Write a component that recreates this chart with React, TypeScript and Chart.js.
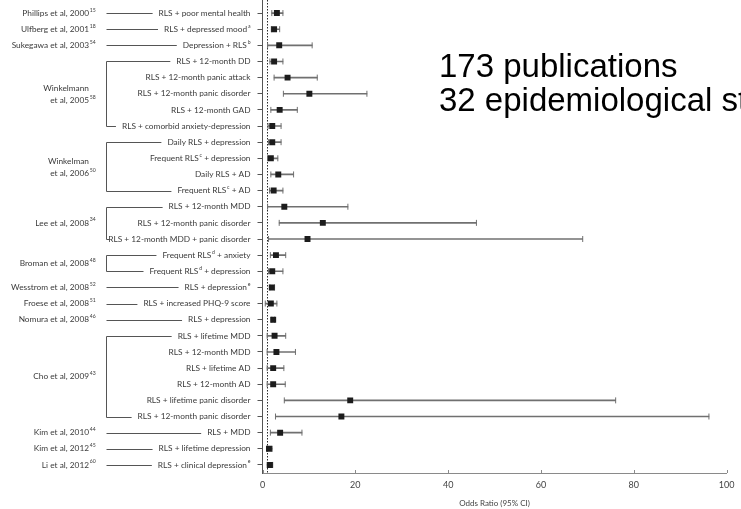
import React, { useEffect, useRef } from 'react';
import { Chart, registerables } from 'chart.js';

Chart.register(...registerables);

// ---------------- data ----------------
const outcomes = [
  'RLS + poor mental health',
  'RLS + depressed mood^{a}',
  'Depression + RLS^{b}',
  'RLS + 12-month DD',
  'RLS + 12-month panic attack',
  'RLS + 12-month panic disorder',
  'RLS + 12-month GAD',
  'RLS + comorbid anxiety-depression',
  'Daily RLS + depression',
  'Frequent RLS^{c} + depression',
  'Daily RLS + AD',
  'Frequent RLS^{c} + AD',
  'RLS + 12-month MDD',
  'RLS + 12-month panic disorder',
  'RLS + 12-month MDD + panic disorder',
  'Frequent RLS^{d} + anxiety',
  'Frequent RLS^{d} + depression',
  'RLS + depression^{e}',
  'RLS + increased PHQ-9 score',
  'RLS + depression',
  'RLS + lifetime MDD',
  'RLS + 12-month MDD',
  'RLS + lifetime AD',
  'RLS + 12-month AD',
  'RLS + lifetime panic disorder',
  'RLS + 12-month panic disorder',
  'RLS + MDD',
  'RLS + lifetime depression',
  'RLS + clinical depression^{e}',
];

const oddsRatio = [3.1, 2.5, 3.6, 2.5, 5.4, 10.1, 3.7, 2.1, 2.1, 1.8, 3.4, 2.4, 4.7, 13.0, 9.7, 2.9, 2.1, 2.0, 1.8, 2.3, 2.6, 3.0, 2.3, 2.3, 18.9, 17.0, 3.8, 1.4, 1.6];
const ciLow = [2.0, 1.9, 1.1, 1.6, 2.5, 4.5, 1.8, 1.2, 1.3, 1.1, 1.8, 1.5, 1.1, 3.6, 1.3, 1.7, 1.3, 1.6, 0.6, 2.0, 1.0, 1.0, 1.0, 1.0, 4.7, 2.8, 1.7, 1.0, 1.0];
const ciHigh = [4.4, 3.7, 10.7, 4.4, 11.8, 22.5, 7.5, 4.0, 4.0, 3.3, 6.7, 4.4, 18.4, 46.1, 69.0, 5.0, 4.4, 2.6, 3.1, 2.6, 5.0, 7.1, 4.6, 4.9, 76.1, 96.2, 8.5, 2.1, 2.2];

const studies = [
  'Phillips et al, 2000^{15}',
  'Ulfberg et al, 2001^{18}',
  'Sukegawa et al, 2003^{54}',
  'Winkelmann\net al, 2005^{58}',
  'Winkelman\net al, 2006^{50}',
  'Lee et al, 2008^{34}',
  'Broman et al, 2008^{48}',
  'Wesstrom et al, 2008^{52}',
  'Froese et al, 2008^{51}',
  'Nomura et al, 2008^{46}',
  'Cho et al, 2009^{43}',
  'Kim et al, 2010^{44}',
  'Kim et al, 2012^{45}',
  'Li et al, 2012^{60}',
];
const studyFirstRow = [0, 1, 2, 3, 8, 12, 15, 17, 18, 19, 20, 26, 27, 28];
const studyLastRow = [0, 1, 2, 7, 11, 14, 16, 17, 18, 19, 25, 26, 27, 28];

const xTickStep = 20;
const xMin = 0;
const xMax = 100;
const nullValue = 1;
const axisTitle = 'Odds Ratio (95% CI)';
const noteLines = ['173 publications', '32 epidemiological studies'];

// ---------------- styling ----------------
const FONT = 'Lato, "Open Sans", sans-serif';
const LABEL_SIZE = 8.3;
const TEXT_COLOR = '#3a3a3a';
const LINE_COLOR = '#555555';
const WHISKER_COLOR = '#707070';

type Part = { t: string; sup: boolean };

function splitRich(text: string): Part[] {
  const parts: Part[] = [];
  const re = /\^\{([^}]*)\}/g;
  let last = 0;
  let m: RegExpExecArray | null;
  while ((m = re.exec(text))) {
    if (m.index > last) parts.push({ t: text.slice(last, m.index), sup: false });
    parts.push({ t: m[1], sup: true });
    last = re.lastIndex;
  }
  if (last < text.length) parts.push({ t: text.slice(last), sup: false });
  return parts;
}

function partWidth(ctx: CanvasRenderingContext2D, p: Part, size: number) {
  ctx.font = `${p.sup ? size * 0.62 : size}px ${FONT}`;
  return ctx.measureText(p.t).width + (p.sup ? 0.8 : 0);
}

function drawParts(ctx: CanvasRenderingContext2D, parts: Part[], x: number, y: number, size: number) {
  let cx = x;
  for (const p of parts) {
    const w = partWidth(ctx, p, size);
    ctx.font = `${p.sup ? size * 0.62 : size}px ${FONT}`;
    ctx.fillText(p.t, p.sup ? cx + 0.8 : cx, p.sup ? y - 3.2 : y);
    cx += w;
  }
}

function hLine(ctx: CanvasRenderingContext2D, x1: number, x2: number, y: number) {
  const yy = Math.round(y) + 0.5;
  ctx.beginPath();
  ctx.moveTo(x1, yy);
  ctx.lineTo(x2, yy);
  ctx.stroke();
}

const forestPlugin = {
  id: 'forestDecor',
  beforeDatasetsDraw(chart: any) {
    const { ctx, chartArea, scales } = chart;
    const px = Math.round(scales.x.getPixelForValue(nullValue)) + 0.5;
    ctx.save();
    ctx.strokeStyle = '#2a2a2a';
    ctx.lineWidth = 1;
    ctx.setLineDash([1.5, 1.5]);
    ctx.beginPath();
    ctx.moveTo(px, 0);
    ctx.lineTo(px, chartArea.bottom);
    ctx.stroke();
    ctx.restore();
  },
  afterDraw(chart: any) {
    const { ctx, chartArea, scales } = chart;
    const ys = scales.y;
    const xs = scales.x;
    ctx.save();

    // y axis extension to top edge
    const axX = Math.round(chartArea.left - 0.5) + 0.5;
    ctx.strokeStyle = LINE_COLOR;
    ctx.lineWidth = 1;
    ctx.beginPath();
    ctx.moveTo(axX, 0);
    ctx.lineTo(axX, chartArea.top);
    ctx.stroke();

    // upward x tick marks
    ctx.strokeStyle = '#8a8a8a';
    for (const t of xs.ticks) {
      const px = Math.round(xs.getPixelForValue(t.value)) + 0.5;
      ctx.beginPath();
      ctx.moveTo(px, chartArea.bottom);
      ctx.lineTo(px, chartArea.bottom - 3);
      ctx.stroke();
    }

    // outcome labels
    ctx.fillStyle = TEXT_COLOR;
    ctx.textBaseline = 'middle';
    ctx.textAlign = 'left';
    const labelRight = chartArea.left - 12;
    const labelStart: number[] = [];
    outcomes.forEach((lab, i) => {
      const parts = splitRich(lab);
      const w = parts.reduce((s, p) => s + partWidth(ctx, p, LABEL_SIZE), 0);
      const x0 = labelRight - w;
      labelStart.push(x0);
      drawParts(ctx, parts, x0, ys.getPixelForValue(i), LABEL_SIZE);
    });

    // study labels and connectors
    const studyRight = 89;
    const bracketX = 106.5;
    const gap = 6;
    ctx.strokeStyle = LINE_COLOR;
    ctx.lineWidth = 1;
    studies.forEach((name, s) => {
      const r0 = studyFirstRow[s];
      const r1 = studyLastRow[s];
      const y0 = ys.getPixelForValue(r0);
      const y1 = ys.getPixelForValue(r1);
      const lines = name.split('\n');
      const cy = (y0 + y1) / 2 + (lines.length > 1 ? 1 : 0);
      lines.forEach((ln, k) => {
        const parts = splitRich(ln);
        const mainW = parts.filter((p) => !p.sup).reduce((a, p) => a + partWidth(ctx, p, LABEL_SIZE), 0);
        const ly = cy + (k - (lines.length - 1) / 2) * 12;
        drawParts(ctx, parts, studyRight - mainW, ly, LABEL_SIZE);
      });
      const end0 = Math.max(labelStart[r0] - gap, bracketX + 3);
      hLine(ctx, bracketX, end0, y0);
      if (r1 !== r0) {
        const end1 = Math.max(labelStart[r1] - gap, bracketX + 3);
        hLine(ctx, bracketX, end1, y1);
        ctx.beginPath();
        ctx.moveTo(bracketX, Math.round(y0) + 0.5);
        ctx.lineTo(bracketX, Math.round(y1) + 0.5);
        ctx.stroke();
      }
    });

    // large note text
    ctx.fillStyle = '#000';
    ctx.textBaseline = 'alphabetic';
    ctx.font = '33px "Liberation Sans", Arial, sans-serif';
    ctx.fillText(noteLines[0], 439, 77);
    ctx.fillText(noteLines[1], 439, 111);
    ctx.restore();
  },
};

export default function App() {
  const ref = useRef<HTMLCanvasElement>(null);
  useEffect(() => {
    const canvas = ref.current;
    if (!canvas) return;
    const rows = outcomes.map((_, i) => i);
    const chart = new Chart(canvas, {
      type: 'bar',
      data: {
        datasets: [
          {
            type: 'bar',
            indexAxis: 'y',
            data: rows.map((i) => ({ x: [ciLow[i], ciHigh[i]], y: i })),
            backgroundColor: WHISKER_COLOR,
            borderWidth: 0,
            barThickness: 1,
            order: 3,
            xAxisID: 'x',
            yAxisID: 'y',
          } as any,
          {
            type: 'scatter',
            data: [
              ...rows.map((i) => ({ x: ciLow[i], y: i })),
              ...rows.map((i) => ({ x: ciHigh[i], y: i })),
            ],
            pointStyle: 'line',
            pointRotation: 90,
            pointRadius: 3,
            pointBorderColor: WHISKER_COLOR,
            pointBorderWidth: 1,
            order: 2,
            xAxisID: 'x',
            yAxisID: 'y',
          } as any,
          {
            type: 'scatter',
            data: rows.map((i) => ({ x: oddsRatio[i], y: i })),
            pointStyle: 'rect',
            pointRadius: 4.2,
            pointBackgroundColor: '#1c1c1c',
            pointBorderColor: '#1c1c1c',
            pointBorderWidth: 0,
            order: 1,
            xAxisID: 'x',
            yAxisID: 'y',
          } as any,
        ],
      },
      options: {
        responsive: false,
        animation: false,
        events: [],
        layout: { padding: { top: 3, right: 8.3, left: 0, bottom: 0 } },
        plugins: { legend: { display: false }, tooltip: { enabled: false } },
        scales: {
          x: {
            type: 'linear',
            min: xMin,
            max: xMax,
            offset: false,
            grid: { display: false, drawTicks: false, offset: false },
            border: { display: true, color: '#8a8a8a', width: 1 },
            ticks: { stepSize: xTickStep, padding: 6.6, color: '#444', font: { family: FONT, size: 9 }, maxRotation: 0 },
            title: { display: true, text: axisTitle, color: '#444', font: { family: FONT, size: 8 }, padding: { top: 0, bottom: 0.5 } },
            afterFit: (s: any) => {
              s.height = 36;
            },
          },
          y: {
            type: 'linear',
            min: -0.5,
            max: outcomes.length - 0.5,
            reverse: true,
            offset: false,
            afterBuildTicks: (s: any) => {
              s.ticks = outcomes.map((_, i) => ({ value: i }));
            },
            ticks: { display: false },
            grid: { drawOnChartArea: false, drawTicks: true, tickLength: 5, color: LINE_COLOR, offset: false },
            border: { display: true, color: LINE_COLOR, width: 1 },
            afterFit: (s: any) => {
              s.width = 262.5;
            },
          },
        },
      } as any,
      plugins: [forestPlugin],
    });
    return () => chart.destroy();
  }, []);

  return (
    <div style={{ position: 'fixed', left: 0, top: 0, width: 741, height: 509, background: '#fff' }}>
      <canvas ref={ref} width={741} height={509} style={{ display: 'block', width: 741, height: 509 }} />
    </div>
  );
}
